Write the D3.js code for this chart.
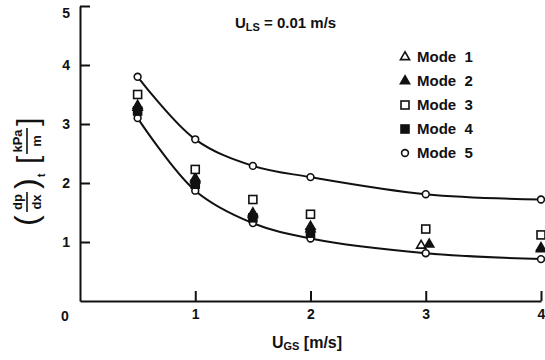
<!DOCTYPE html>
<html><head><meta charset="utf-8">
<script src="https://cdn.jsdelivr.net/npm/d3@7"></script>
<style>
body{margin:0;background:#fff;}
text{font-family:"Liberation Sans",Arial,sans-serif;font-weight:bold;fill:#111;}
</style></head>
<body><svg id="c" width="545" height="360"></svg>
<script>
// ---- data ----
const xValues = [0.5, 1, 1.5, 2, 3, 4];
const mode1 = [3.31, 2.08, 1.49, 1.26, 0.94, 0.90];      // open triangles
const mode1X = [0.5, 1, 1.5, 2, 2.96, 4];
const mode2 = [3.28, 2.05, 1.46, 1.22, 0.96, 0.88];      // filled triangles
const mode2X = [0.5, 1, 1.5, 2, 3.03, 4];
const mode3 = [3.50, 2.23, 1.72, 1.47, 1.22, 1.12];      // open squares
const mode4 = [3.22, 1.98, 1.41, 1.15];                  // filled squares
const mode4X = [0.5, 1, 1.5, 2];
const mode5Upper = [3.80, 2.74, 2.29, 2.10, 1.81, 1.72]; // open circles, upper curve
const mode5Lower = [3.10, 1.87, 1.32, 1.06, 0.81, 0.71]; // open circles, lower curve
const xTicks = [1, 2, 3, 4];
const yTicks = [1, 2, 3, 4, 5];
const legendLabels = ["Mode  1", "Mode  2", "Mode  3", "Mode  4", "Mode  5"];
const legendSymbols = ["triOpen", "triFilled", "sqOpen", "sqFilled", "circOpen"];

const svg = d3.select("#c");
const x = d3.scaleLinear().domain([0, 4]).range([80, 541]);
const y = d3.scaleLinear().domain([0, 5]).range([301, 6]);

// axes
const gx = svg.append("g").attr("transform", `translate(0,${y(0)})`)
  .call(d3.axisBottom(x).tickValues(xTicks).tickFormat(d3.format("d"))
    .tickSizeInner(-10).tickSizeOuter(0).tickPadding(8));
const gy = svg.append("g").attr("transform", `translate(${x(0)},0)`)
  .call(d3.axisLeft(y).tickValues(yTicks).tickFormat(d3.format("d"))
    .tickSizeInner(-10).tickSizeOuter(0).tickPadding(10));
[gx, gy].forEach(g => {
  g.selectAll("path,line").attr("stroke", "#111").attr("stroke-width", 2);
  g.selectAll("text").style("font-size", "14px").style("font-family", '"Liberation Sans",Arial,sans-serif').style("font-weight", "bold").attr("fill", "#111");
});
// keep the top label inside the frame
gy.selectAll(".tick text").filter(d => d === 5).attr("dy", "0.85em");
svg.append("text").attr("x", x(0) - 15).attr("y", y(0) + 20).attr("text-anchor", "middle")
  .style("font-size", "14px").text("0");

// curves
const line = d3.line().x((d, i) => x(xValues[i])).y(d => y(d)).curve(d3.curveCatmullRom.alpha(0.5));
[mode5Upper, mode5Lower].forEach(arr => {
  svg.append("path").attr("d", line(arr)).attr("fill", "none").attr("stroke", "#111").attr("stroke-width", 2);
});

// symbols
function sym(g, type, cx, cy) {
  if (type === "triOpen" || type === "triFilled") {
    g.append("path").attr("d", d3.symbol(d3.symbolTriangle, 36)()).attr("transform", `translate(${cx},${cy})`)
      .attr("fill", type === "triFilled" ? "#111" : "#fff").attr("stroke", "#111").attr("stroke-width", 1.6);
  } else if (type === "sqOpen" || type === "sqFilled") {
    g.append("rect").attr("x", cx - 4).attr("y", cy - 4).attr("width", 8).attr("height", 8)
      .attr("fill", type === "sqFilled" ? "#111" : "#fff").attr("stroke", "#111").attr("stroke-width", 1.6);
  } else {
    g.append("circle").attr("cx", cx).attr("cy", cy).attr("r", 3.4)
      .attr("fill", "#fff").attr("stroke", "#111").attr("stroke-width", 1.6);
  }
}
const gp = svg.append("g");
mode5Lower.forEach((v, i) => sym(gp, "circOpen", x(xValues[i]), y(v)));
mode4.forEach((v, i) => sym(gp, "sqFilled", x(mode4X[i]), y(v)));
mode1.forEach((v, i) => sym(gp, "triOpen", x(mode1X[i]), y(v)));
mode2.forEach((v, i) => sym(gp, "triFilled", x(mode2X[i]), y(v)));
mode3.forEach((v, i) => sym(gp, "sqOpen", x(xValues[i]), y(v)));
mode5Upper.forEach((v, i) => sym(gp, "circOpen", x(xValues[i]), y(v)));

// legend
const lg = svg.append("g");
legendLabels.forEach((lab, i) => {
  const ly = 57 + i * 24;
  sym(lg, legendSymbols[i], 405, ly);
  lg.append("text").attr("x", 417).attr("y", ly + 5).style("font-size", "15px")
    .style("white-space", "pre").text(lab);
});

// title
const t = svg.append("text").attr("x", 235).attr("y", 28).style("font-size", "15px");
t.append("tspan").text("U");
t.append("tspan").attr("dy", 3).style("font-size", "11px").text("LS");
t.append("tspan").attr("dy", -3).text(" = 0.01 m/s");

// x-axis title
const xt = svg.append("text").attr("x", 307).attr("y", 348).attr("text-anchor", "middle").style("font-size", "16px");
xt.append("tspan").text("U");
xt.append("tspan").attr("dy", 2).style("font-size", "11px").text("GS");
xt.append("tspan").attr("dy", -2).text(" [m/s]");

// y-axis title (rotated)
const ya = svg.append("g").attr("transform", "translate(27,160) rotate(-90)");
ya.append("text").attr("x", -66).attr("y", 10).style("font-size", "32px").style("font-weight", "normal").text("(");
ya.append("text").attr("x", -42).attr("y", -5).attr("text-anchor", "middle").style("font-size", "13px").text("dp");
ya.append("line").attr("x1", -52).attr("x2", -32).attr("y1", 0).attr("y2", 0).attr("stroke", "#111").attr("stroke-width", 1.6);
ya.append("text").attr("x", -42).attr("y", 14).attr("text-anchor", "middle").style("font-size", "13px").text("dx");
ya.append("text").attr("x", -29).attr("y", 10).style("font-size", "32px").style("font-weight", "normal").text(")");
ya.append("text").attr("x", -17).attr("y", 18).style("font-size", "10px").text("t");
ya.append("text").attr("x", -4).attr("y", 11).style("font-size", "30px").style("font-weight", "normal").text("[");
ya.append("text").attr("x", 19).attr("y", -5).attr("text-anchor", "middle").style("font-size", "13px").text("kPa");
ya.append("line").attr("x1", 6).attr("x2", 32).attr("y1", 0).attr("y2", 0).attr("stroke", "#111").attr("stroke-width", 1.6);
ya.append("text").attr("x", 19).attr("y", 14).attr("text-anchor", "middle").style("font-size", "13px").text("m");
ya.append("text").attr("x", 34).attr("y", 11).style("font-size", "30px").style("font-weight", "normal").text("]");
</script></body></html>
